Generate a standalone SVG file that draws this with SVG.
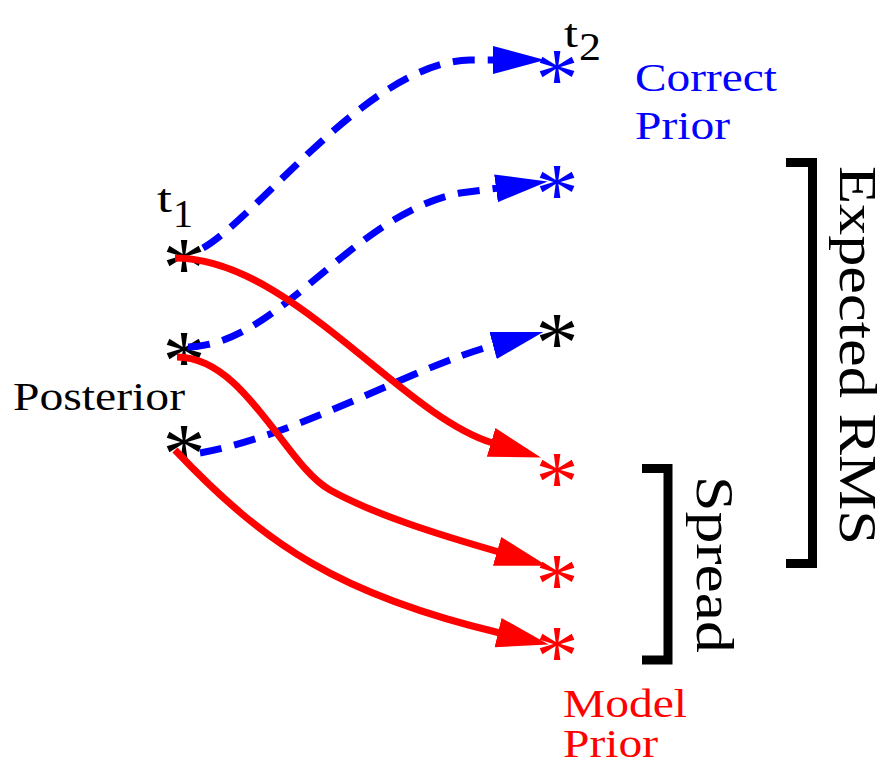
<svg xmlns="http://www.w3.org/2000/svg" width="888" height="766" viewBox="0 0 888 766">
<style>
text{font-family:"Liberation Serif","Times New Roman","DejaVu Serif",serif}
.lbl{font-size:40px}
.star{font-size:86px;text-anchor:middle}
.blk{fill:#000}
.blu{fill:#0000ff}
.red{fill:#ff0000}
.sol{fill:none;stroke:#ff0000;stroke-width:7}
.dsh{fill:none;stroke:#0000ff;stroke-width:7;stroke-dasharray:22 13}
.brk{fill:none;stroke:#000;stroke-width:9;stroke-linejoin:miter}
</style>
<defs>
<marker id="ahR" markerUnits="userSpaceOnUse" viewBox="0 -16 54 32" refX="2" refY="0" markerWidth="54" markerHeight="32" orient="auto"><path d="M0,-15 L52,0 L0,15 Z" fill="#ff0000"/></marker>
<marker id="ahB" markerUnits="userSpaceOnUse" viewBox="0 -16 54 32" refX="2" refY="0" markerWidth="54" markerHeight="32" orient="auto"><path d="M0,-14 L52,0 L0,14 Z" fill="#0000ff"/></marker>
</defs>
<g id="post1"><text class="star blk" x="184" y="297">*</text></g>
<g id="post2"><text class="star blk" x="184" y="390">*</text></g>
<g id="post3"><text class="star blk" x="184" y="483">*</text></g>
<g id="cp1"><text class="star blu" x="557" y="108">*</text></g>
<g id="cp2"><text class="star blu" x="557" y="223">*</text></g>
<g id="cp3"><text class="star blk" x="557" y="372">*</text></g>
<g id="mp1"><text class="star red" x="557" y="511">*</text></g>
<g id="mp2"><text class="star red" x="557" y="613">*</text></g>
<g id="mp3"><text class="star red" x="557" y="685">*</text></g>
<g id="connectors">
<path class="dsh" d="M203,248 C260,215 370,62 470,60 L495,60" marker-end="url(#ahB)"/>
<path class="dsh" d="M188,347 C280,345 350,215 460,193 L498,188" marker-end="url(#ahB)"/>
<path class="dsh" d="M200,453 C300,435 410,368 495,345" marker-end="url(#ahB)"/>
<path class="sol" d="M175,258 C290,258 400,415 493,443" marker-end="url(#ahR)"/>
<path class="sol" d="M177,357 C245,357 285,465 330,490 S440,535 499,552" marker-end="url(#ahR)"/>
<path class="sol" d="M175,450 C265,545 340,595 500,633" marker-end="url(#ahR)"/>
</g>
<g id="t1"><text class="lbl blk" x="157" y="212" font-size="48" textLength="15" lengthAdjust="spacingAndGlyphs">t</text><text class="lbl blk" x="173" y="227" font-size="44" textLength="20" lengthAdjust="spacingAndGlyphs">1</text></g>
<g id="t2"><text class="lbl blk" x="564" y="47" font-size="48" textLength="14" lengthAdjust="spacingAndGlyphs">t</text><text class="lbl blk" x="579" y="60" font-size="44" textLength="22" lengthAdjust="spacingAndGlyphs">2</text></g>
<g id="posterior"><text class="lbl blk" x="13" y="410" textLength="172" lengthAdjust="spacingAndGlyphs">Posterior</text></g>
<g id="correct-prior"><text class="lbl blu" x="635" y="91" textLength="142" lengthAdjust="spacingAndGlyphs">Correct</text><text class="lbl blu" x="635" y="139" textLength="95" lengthAdjust="spacingAndGlyphs">Prior</text></g>
<g id="model-prior"><text class="lbl red" x="563" y="717" textLength="124" lengthAdjust="spacingAndGlyphs">Model</text><text class="lbl red" x="563" y="757" textLength="95" lengthAdjust="spacingAndGlyphs">Prior</text></g>
<g id="expected-rms"><path class="brk" d="M786,162.5 H812.5 V563.5 H786"/><text class="lbl blk" transform="translate(840,166) rotate(90)" x="0" y="0" style="font-size:53px" textLength="379" lengthAdjust="spacingAndGlyphs">Expected RMS</text></g>
<g id="spread"><path class="brk" d="M642,468.5 H668 V660 H642"/><text class="lbl blk" transform="translate(697,476) rotate(90)" x="0" y="0" style="font-size:53px" textLength="177" lengthAdjust="spacingAndGlyphs">Spread</text></g>
</svg>
